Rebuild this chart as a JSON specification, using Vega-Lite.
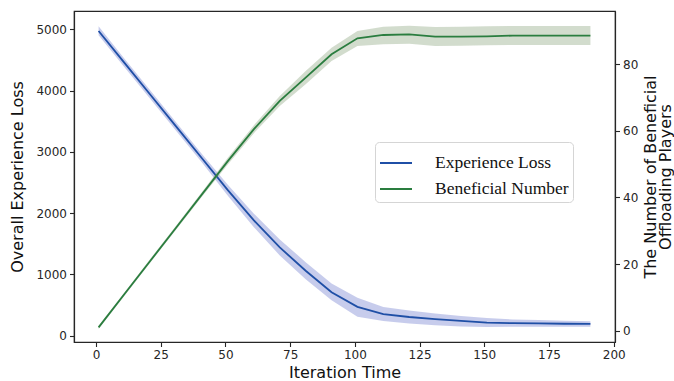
{
  "$schema": "https://vega.github.io/schema/vega-lite/v6.json",
  "width": 541,
  "height": 331,
  "autosize": "none",
  "padding": {"left": 74, "top": 11, "right": 59, "bottom": 39},
  "background": "white",
  "config": {
    "view": {"stroke": "#262626", "strokeWidth": 1.2},
    "axis": {
      "labelFont": "DejaVu Sans", "labelFontSize": 12, "labelColor": "#262626",
      "titleFont": "DejaVu Sans", "titleFontSize": 16, "titleFontWeight": "normal", "titleColor": "#111111",
      "tickColor": "#262626", "tickSize": 4.5, "tickWidth": 1.1, "domainColor": "#262626", "domainWidth": 1.2,
      "grid": false, "labelPadding": 3
    },
    "legend": {
      "labelFont": "Liberation Serif", "labelFontSize": 17.5, "labelColor": "#111111"
    }
  },
  "data": {"values": [
    {"iter": 1, "loss": 4970, "loss_lo": 4900, "loss_hi": 5050, "num": 1, "num_lo": 0.5, "num_hi": 1.5},
    {"iter": 11, "loss": 4450, "loss_lo": 4380, "loss_hi": 4520, "num": 11, "num_lo": 10.5, "num_hi": 11.5},
    {"iter": 21, "loss": 3930, "loss_lo": 3860, "loss_hi": 4000, "num": 21, "num_lo": 20.5, "num_hi": 21.6},
    {"iter": 31, "loss": 3410, "loss_lo": 3340, "loss_hi": 3480, "num": 31, "num_lo": 30.4, "num_hi": 31.6},
    {"iter": 41, "loss": 2890, "loss_lo": 2820, "loss_hi": 2960, "num": 41, "num_lo": 40.3, "num_hi": 41.7},
    {"iter": 51, "loss": 2370, "loss_lo": 2280, "loss_hi": 2460, "num": 51, "num_lo": 50, "num_hi": 52},
    {"iter": 61, "loss": 1880, "loss_lo": 1770, "loss_hi": 1990, "num": 60.5, "num_lo": 59.3, "num_hi": 61.7},
    {"iter": 71, "loss": 1440, "loss_lo": 1310, "loss_hi": 1570, "num": 69, "num_lo": 67.5, "num_hi": 70.5},
    {"iter": 81, "loss": 1060, "loss_lo": 920, "loss_hi": 1200, "num": 76, "num_lo": 74, "num_hi": 78},
    {"iter": 91, "loss": 710, "loss_lo": 580, "loss_hi": 850, "num": 83, "num_lo": 81, "num_hi": 85},
    {"iter": 101, "loss": 470, "loss_lo": 310, "loss_hi": 620, "num": 87.8, "num_lo": 85.5, "num_hi": 90},
    {"iter": 111, "loss": 350, "loss_lo": 240, "loss_hi": 470, "num": 88.8, "num_lo": 86, "num_hi": 91.3},
    {"iter": 121, "loss": 305, "loss_lo": 200, "loss_hi": 410, "num": 89, "num_lo": 86.2, "num_hi": 91.6},
    {"iter": 131, "loss": 270, "loss_lo": 170, "loss_hi": 360, "num": 88.3, "num_lo": 85.5, "num_hi": 91.2},
    {"iter": 141, "loss": 240, "loss_lo": 150, "loss_hi": 320, "num": 88.3, "num_lo": 85.6, "num_hi": 91.3},
    {"iter": 151, "loss": 212, "loss_lo": 140, "loss_hi": 290, "num": 88.4, "num_lo": 85.7, "num_hi": 91.4},
    {"iter": 161, "loss": 205, "loss_lo": 145, "loss_hi": 265, "num": 88.6, "num_lo": 85.8, "num_hi": 91.5},
    {"iter": 171, "loss": 200, "loss_lo": 145, "loss_hi": 255, "num": 88.6, "num_lo": 85.8, "num_hi": 91.5},
    {"iter": 181, "loss": 195, "loss_lo": 146, "loss_hi": 245, "num": 88.6, "num_lo": 85.8, "num_hi": 91.5},
    {"iter": 191, "loss": 192, "loss_lo": 147, "loss_hi": 235, "num": 88.6, "num_lo": 85.8, "num_hi": 91.5}
  ]},
  "encoding": {
    "x": {
      "field": "iter", "type": "quantitative",
      "scale": {"domain": [-8.5, 200.5], "nice": false, "zero": false},
      "axis": {"values": [0, 25, 50, 75, 100, 125, 150, 175, 200], "format": "d", "title": "Iteration Time", "titlePadding": 4}
    }
  },
  "layer": [
    {
      "encoding": {
        "y": {
          "type": "quantitative",
          "scale": {"domain": [-103, 5297], "nice": false, "zero": false},
          "axis": {"orient": "left", "values": [0, 1000, 2000, 3000, 4000, 5000], "format": "d", "title": "Overall Experience Loss", "titlePadding": 10}
        }
      },
      "layer": [
        {
          "mark": {"type": "area", "color": "#4455c0", "opacity": 0.3},
          "encoding": {"y": {"field": "loss_hi", "type": "quantitative"}, "y2": {"field": "loss_lo"}}
        },
        {
          "mark": {"type": "line", "strokeWidth": 1.8},
          "encoding": {
            "y": {"field": "loss", "type": "quantitative"},
            "color": {"datum": "Experience Loss", "type": "nominal",
              "scale": {"domain": ["Experience Loss", "Beneficial Number"], "range": ["#1f4fa6", "#2a7d3f"]},
              "legend": {"orient": "none", "legendX": 301, "legendY": 131, "title": null,
                "symbolType": "stroke", "symbolSize": 1024, "symbolStrokeWidth": 2,
                "labelOffset": 22, "rowPadding": -7, "padding": 4,
                "fillColor": "white", "strokeColor": "#d5d5d5", "cornerRadius": 4}
            }
          }
        }
      ]
    },
    {
      "encoding": {
        "y": {
          "type": "quantitative",
          "scale": {"domain": [-3.4, 96], "nice": false, "zero": false},
          "axis": {"orient": "right", "values": [0, 20, 40, 60, 80], "format": "d",
            "title": ["The Number of Beneficial", "Offloading Players"],
            "titleAngle": -90, "titleX": 27, "titleY": 165.5, "titleAlign": "center", "titleBaseline": "top", "titleLineHeight": 15.5}
        }
      },
      "layer": [
        {
          "mark": {"type": "area", "color": "#5a7f45", "opacity": 0.27},
          "encoding": {"y": {"field": "num_hi", "type": "quantitative"}, "y2": {"field": "num_lo"}}
        },
        {
          "mark": {"type": "line", "strokeWidth": 1.8},
          "encoding": {
            "y": {"field": "num", "type": "quantitative"},
            "color": {"datum": "Beneficial Number", "type": "nominal"}
          }
        }
      ]
    }
  ],
  "resolve": {"scale": {"y": "independent"}}
}
